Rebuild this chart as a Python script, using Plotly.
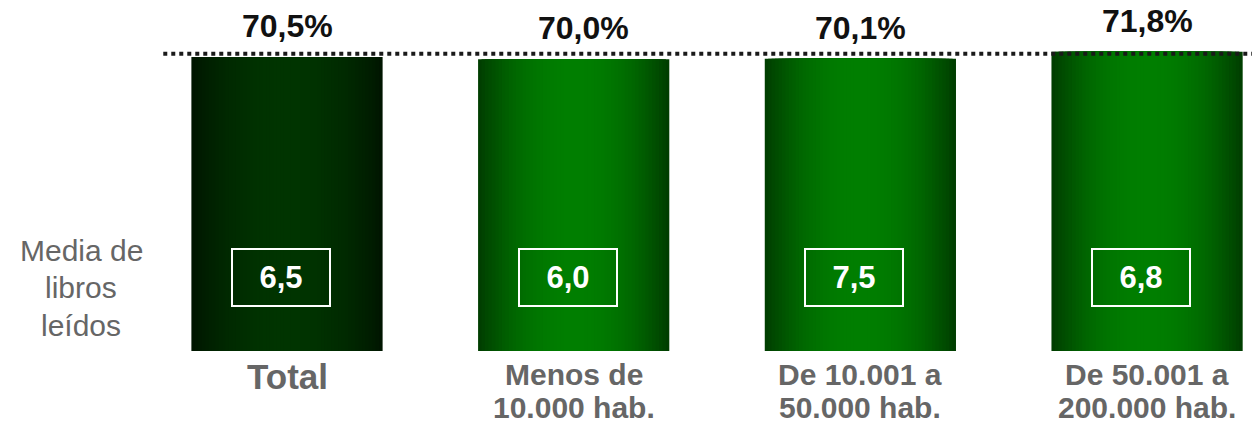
import plotly.graph_objects as go

# ---- data ----
categories = ["Total", "Menos de<br>10.000 hab.", "De 10.001 a<br>50.000 hab.", "De 50.001 a<br>200.000 hab."]
pct_values = [70.5, 70.0, 70.1, 71.8]
pct_labels = ["70,5%", "70,0%", "70,1%", "71,8%"]
books_labels = ["6,5", "6,0", "7,5", "6,8"]
side_label = "Media de<br>libros<br>leídos"

# ---- styling ----
xs = list(range(len(categories)))
BAR_W = 0.667
N_LAYERS = 28
edge_total, center_total = (0, 22, 0), (0, 52, 0)
edge_other, center_other = (0, 62, 0), (0, 126, 0)


def mix(a, b, f):
    return "rgb(%d,%d,%d)" % tuple(round(a[i] + (b[i] - a[i]) * f) for i in range(3))


fig = go.Figure()
for k in range(N_LAYERS):
    frac = 1 - k / N_LAYERS              # relative width of this layer
    f = 1 - frac ** 2.2                  # brightness toward centre
    cols = [mix(edge_total, center_total, f) if i == 0 else mix(edge_other, center_other, f)
            for i in range(len(xs))]
    fig.add_trace(go.Bar(
        x=xs, y=pct_values, width=[BAR_W * frac] * len(xs),
        marker=dict(color=cols, line=dict(width=0)),
        hoverinfo="skip", showlegend=False,
    ))

annotations = []
pct_xshift = [0, 10, 0, 0]
for i, x in enumerate(xs):
    # percentage above bar
    annotations.append(dict(
        x=x, y=pct_values[i], xref="x", yref="y", text="<b>%s</b>" % pct_labels[i],
        showarrow=False, yanchor="middle", yshift=31, xshift=pct_xshift[i],
        font=dict(family="Liberation Sans, Arial", size=32, color="#111111"),
    ))
    # boxed book count
    annotations.append(dict(
        x=x, y=0.208, xref="x", yref="paper", text="<b>%s</b>" % books_labels[i],
        showarrow=False, yanchor="middle", xshift=-6,
        width=96, height=55, borderwidth=2, bordercolor="white", borderpad=0,
        font=dict(family="Liberation Sans, Arial", size=31, color="white"),
    ))
    # category labels
    lines = categories[i].split("<br>")
    if len(lines) == 1:
        annotations.append(dict(
            x=x, y=0, xref="x", yref="paper", text="<b>%s</b>" % lines[0],
            showarrow=False, yanchor="middle", yshift=-25,
            font=dict(family="Liberation Sans, Arial", size=35, color="#666666"),
        ))
    else:
        for j, ln in enumerate(lines):
            annotations.append(dict(
                x=x, y=0, xref="x", yref="paper", text="<b>%s</b>" % ln,
                showarrow=False, yanchor="middle", yshift=-23 - 33 * j,
                font=dict(family="Liberation Sans, Arial", size=30, color="#666666"),
            ))

for j, ln in enumerate(side_label.split("<br>")):
    annotations.append(dict(
        x=0, y=0, xref="paper", yref="paper", xshift=-79, yshift=101 - 37.5 * j,
        text=ln, showarrow=False, xanchor="center", yanchor="middle",
        font=dict(family="Liberation Sans, Arial", size=30, color="#666666"),
    ))

fig.update_layout(
    width=1252, height=426,
    margin=dict(l=160, r=0, t=0, b=75),
    paper_bgcolor="white", plot_bgcolor="white",
    barmode="overlay",
    xaxis=dict(range=[-0.443, 3.366], visible=False, fixedrange=True),
    yaxis=dict(range=[0, 84.2], visible=False, fixedrange=True),
    annotations=annotations,
    shapes=[dict(type="line", xref="paper", yref="y", x0=0.003, x1=1, y0=71.3, y1=71.3,
                 line=dict(color="#1a1a1a", width=4, dash="dot"), layer="above")],
)

fig.write_html("out.html", config={"displayModeBar": False},
               post_script="document.body.style.margin='0';document.body.style.overflow='hidden';")
